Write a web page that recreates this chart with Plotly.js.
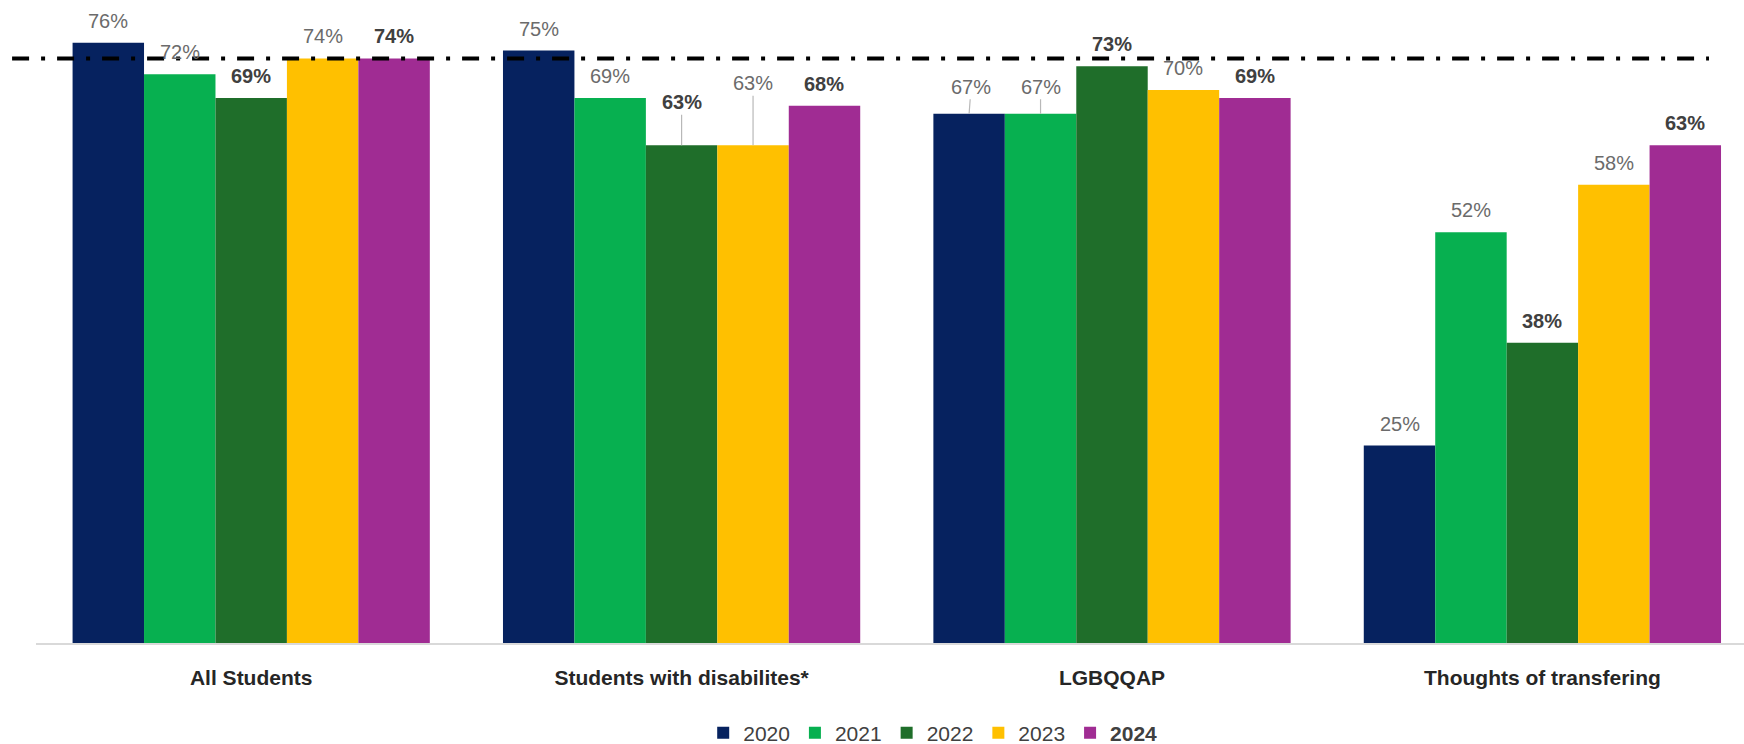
<!DOCTYPE html>
<html>
<head>
<meta charset="utf-8">
<script src="https://cdn.plot.ly/plotly-3.0.1.min.js"></script>
<style>
  html, body { margin: 0; padding: 0; background: #ffffff; }
  #chart { width: 1744px; height: 744px; }
</style>
</head>
<body>
<div id="chart"></div>
<script>
// Survey groups along the x axis
const categories = ['All Students', 'Students with disabilites*', 'LGBQQAP', 'Thoughts of transfering'];

// Survey years (one bar series each)
const years = ['2020', '2021', '2022', '2023', '2024'];

// Percentage per group, one array per year
const values2020 = [76, 75, 67, 25];
const values2021 = [72, 69, 67, 52];
const values2022 = [69, 63, 73, 38];
const values2023 = [74, 63, 70, 58];
const values2024 = [74, 68, 69, 63];

// Reference level drawn as the dash-dot line
const benchmark = 74;

const seriesValues = [values2020, values2021, values2022, values2023, values2024];

// Styling
const FONT = 'Liberation Sans, Arial, sans-serif';
const colors = ['#06225F', '#07B050', '#1F6E2A', '#FFC000', '#A02C93'];
const labelColors = ['#6b6b6b', '#6b6b6b', '#404040', '#6b6b6b', '#404040'];
const labelWeights = ['normal', 'normal', 'bold', 'normal', 'bold'];
const BARGAP = 0.17;
const Y_MAX = 81.4;

// Labels that sit higher with a leader line back to their bar (group index, year index)
const leaderLabels = {
  '1-2': { ax: 0, ay: -43 },
  '1-3': { ax: 0, ay: -62 },
  '2-0': { ax: 2, ay: -27 },
  '2-1': { ax: 0, ay: -27 }
};

const traces = years.map((yr, i) => ({
  type: 'bar',
  name: i === years.length - 1 ? '<b>' + yr + '</b>' : yr,
  x: categories,
  y: seriesValues[i],
  marker: { color: colors[i], line: { width: 0 } },
  hoverinfo: 'skip'
}));

// Value labels above each bar
const slot = (1 - BARGAP) / years.length;
const annotations = [];
years.forEach((yr, i) => {
  seriesValues[i].forEach((v, g) => {
    const xPos = g + (i - (years.length - 1) / 2) * slot;
    const txt = v + '%';
    const font = { family: FONT, size: 20, color: labelColors[i], weight: labelWeights[i] };
    const lead = leaderLabels[g + '-' + i];
    if (lead) {
      annotations.push({
        xref: 'x', yref: 'y', x: xPos, y: v, text: txt, font: font,
        showarrow: true, arrowhead: 0, arrowwidth: 1.2, arrowcolor: '#b8b8b8',
        ax: lead.ax, ay: lead.ay, standoff: 0
      });
    } else {
      annotations.push({
        xref: 'x', yref: 'y', x: xPos, y: v, text: txt, font: font,
        showarrow: false, yanchor: 'middle', yshift: 22
      });
    }
  });
});

const layout = {
  width: 1744,
  height: 744,
  margin: { l: 36, r: 0, t: 0, b: 101, autoexpand: false },
  paper_bgcolor: '#ffffff',
  plot_bgcolor: '#ffffff',
  barmode: 'group',
  bargap: BARGAP,
  bargroupgap: 0,
  showlegend: true,
  legend: {
    orientation: 'h',
    x: 0.525, xanchor: 'center',
    y: -0.14, yanchor: 'middle',
    font: { family: FONT, size: 21, color: '#404040' },
    itemwidth: 30,
    traceorder: 'normal'
  },
  xaxis: {
    type: 'category',
    range: [-0.5, (1744 - 36) / 430.4 - 0.5],
    showline: true, linecolor: '#d9d9d9', linewidth: 2,
    showgrid: false, zeroline: false, ticks: '',
    ticklabelstandoff: 15,
    tickfont: { family: FONT, size: 21, color: '#262626', weight: 'bold' },
    automargin: false,
    fixedrange: true
  },
  yaxis: {
    range: [0, Y_MAX],
    visible: false,
    showgrid: false, zeroline: false,
    automargin: false,
    fixedrange: true
  },
  shapes: [{
    type: 'line',
    xref: 'paper', yref: 'y',
    x0: -0.014, x1: 0.9795,
    y0: benchmark, y1: benchmark,
    line: { color: '#000000', width: 4, dash: '17px,12px,4px,12px' },
    layer: 'above'
  }],
  annotations: annotations
};

Plotly.newPlot('chart', traces, layout, { displayModeBar: false, staticPlot: true });
</script>
</body>
</html>
